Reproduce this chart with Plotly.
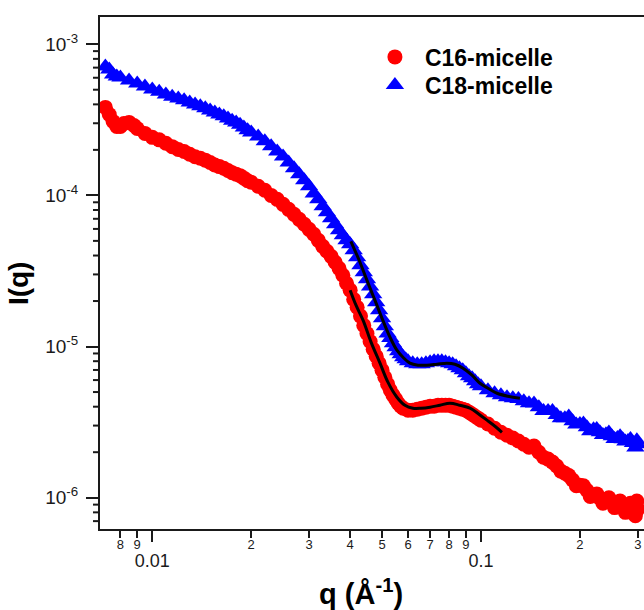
import math
import plotly.graph_objects as go

# ---------------- data ----------------
q_c16 = [0.0072, 0.0074, 0.0076, 0.0078, 0.0080, 0.0082, 0.0085, 0.0088, 0.0090, 0.0095,
         0.010, 0.0105, 0.011, 0.0115, 0.012, 0.0125, 0.013, 0.0135, 0.014, 0.0145,
         0.015, 0.0155, 0.016, 0.0165, 0.017, 0.0175, 0.018, 0.0185, 0.019, 0.0195,
         0.020, 0.021, 0.022, 0.023, 0.024, 0.025, 0.026, 0.027, 0.028, 0.029,
         0.030, 0.031, 0.032, 0.033, 0.034, 0.035, 0.036, 0.037, 0.038, 0.039,
         0.040, 0.041, 0.042, 0.043, 0.044, 0.045, 0.046, 0.047, 0.048, 0.049,
         0.050, 0.051, 0.052, 0.053, 0.054, 0.055, 0.056, 0.057, 0.058, 0.060,
         0.062, 0.064, 0.066, 0.068, 0.070, 0.072, 0.074, 0.076, 0.078, 0.080,
         0.082, 0.084, 0.086, 0.088, 0.090, 0.092, 0.094, 0.096, 0.098, 0.100,
         0.105, 0.110, 0.115, 0.120, 0.125, 0.130, 0.135, 0.140, 0.145, 0.150,
         0.155, 0.160, 0.165, 0.170, 0.175, 0.180, 0.185, 0.190, 0.195, 0.200,
         0.205, 0.210, 0.215, 0.220, 0.225, 0.230, 0.235, 0.240, 0.245, 0.250,
         0.255, 0.260, 0.265, 0.270, 0.275, 0.280, 0.285, 0.290, 0.295, 0.300, 0.298]
i_c16 = [3.82e-4, 3.43e-4, 3.08e-4, 2.86e-4, 2.86e-4, 2.99e-4, 3.04e-4, 2.90e-4, 2.77e-4, 2.57e-4,
         2.42e-4, 2.33e-4, 2.21e-4, 2.10e-4, 2.01e-4, 1.95e-4, 1.87e-4, 1.80e-4, 1.76e-4, 1.71e-4,
         1.65e-4, 1.59e-4, 1.55e-4, 1.51e-4, 1.46e-4, 1.41e-4, 1.38e-4, 1.35e-4, 1.30e-4, 1.25e-4,
         1.22e-4, 1.15e-4, 1.08e-4, 1.00e-4, 9.41e-5, 8.72e-5, 8.08e-5, 7.49e-5, 6.94e-5, 6.44e-5,
         5.96e-5, 5.53e-5, 5.04e-5, 4.60e-5, 4.27e-5, 3.95e-5, 3.61e-5, 3.29e-5, 2.96e-5, 2.62e-5,
         2.36e-5, 2.05e-5, 1.82e-5, 1.59e-5, 1.38e-5, 1.22e-5, 1.08e-5, 9.60e-6, 8.63e-6, 7.76e-6,
         6.98e-6, 6.27e-6, 5.64e-6, 5.14e-6, 4.77e-6, 4.49e-6, 4.22e-6, 4.03e-6, 3.91e-6, 3.79e-6,
         3.79e-6, 3.85e-6, 3.91e-6, 3.97e-6, 4.03e-6, 4.03e-6, 4.09e-6, 4.09e-6, 4.09e-6, 4.09e-6,
         4.03e-6, 3.97e-6, 3.91e-6, 3.85e-6, 3.79e-6, 3.68e-6, 3.57e-6, 3.46e-6, 3.36e-6, 3.26e-6,
         3.07e-6, 2.88e-6, 2.71e-6, 2.59e-6, 2.48e-6, 2.37e-6, 2.26e-6, 2.16e-6, 2.20e-6, 2.00e-6,
         1.85e-6, 1.80e-6, 1.72e-6, 1.62e-6, 1.50e-6, 1.45e-6, 1.40e-6, 1.31e-6, 1.20e-6, 1.21e-6,
         1.20e-6, 1.12e-6, 1.02e-6, 1.04e-6, 1.06e-6, 9.94e-7, 9.20e-7, 9.50e-7, 1.00e-6, 9.21e-7,
         8.60e-7, 8.94e-7, 9.50e-7, 8.67e-7, 8.00e-7, 8.54e-7, 9.20e-7, 8.41e-7, 7.60e-7, 8.41e-7, 9.50e-7]

q_c18 = [0.0072, 0.0074, 0.0076, 0.0078, 0.0080, 0.0085, 0.0090, 0.0095,
         0.010, 0.0105, 0.011, 0.0115, 0.012, 0.0125, 0.013, 0.0135, 0.014, 0.0145,
         0.015, 0.0155, 0.016, 0.0165, 0.017, 0.0175, 0.018, 0.0185, 0.019, 0.0195,
         0.020, 0.021, 0.022, 0.023, 0.024, 0.025, 0.026, 0.027, 0.028, 0.029,
         0.030, 0.031, 0.032, 0.033, 0.034, 0.035, 0.036, 0.037, 0.038, 0.039,
         0.040, 0.041, 0.042, 0.043, 0.044, 0.045, 0.046, 0.047, 0.048, 0.049,
         0.050, 0.051, 0.052, 0.053, 0.054, 0.055, 0.056, 0.057, 0.058, 0.059, 0.060,
         0.062, 0.064, 0.066, 0.068, 0.070, 0.072, 0.074, 0.076, 0.078, 0.080,
         0.082, 0.084, 0.086, 0.088, 0.090, 0.092, 0.094, 0.096, 0.098, 0.100,
         0.105, 0.110, 0.115, 0.120, 0.125, 0.130, 0.135, 0.140, 0.145, 0.150,
         0.155, 0.160, 0.165, 0.170, 0.175, 0.180, 0.185, 0.190, 0.195, 0.200,
         0.205, 0.210, 0.215, 0.220, 0.225, 0.230, 0.235, 0.240, 0.245, 0.250,
         0.255, 0.260, 0.265, 0.270, 0.275, 0.280, 0.285, 0.290, 0.295, 0.300, 0.298]
i_c18 = [7.12e-4, 6.80e-4, 6.31e-4, 6.12e-4, 6.02e-4, 5.75e-4, 5.50e-4, 5.25e-4,
         5.02e-4, 4.85e-4, 4.65e-4, 4.50e-4, 4.38e-4, 4.26e-4, 4.12e-4, 3.99e-4, 3.88e-4, 3.77e-4,
         3.65e-4, 3.53e-4, 3.43e-4, 3.34e-4, 3.23e-4, 3.12e-4, 3.04e-4, 2.93e-4, 2.81e-4, 2.70e-4,
         2.61e-4, 2.45e-4, 2.28e-4, 2.11e-4, 1.95e-4, 1.81e-4, 1.65e-4, 1.51e-4, 1.38e-4, 1.26e-4,
         1.15e-4, 1.03e-4, 9.41e-5, 8.46e-5, 7.72e-5, 7.05e-5, 6.44e-5, 5.87e-5, 5.44e-5, 5.04e-5,
         4.75e-5, 4.33e-5, 3.89e-5, 3.45e-5, 3.10e-5, 2.79e-5, 2.50e-5, 2.22e-5, 1.96e-5, 1.74e-5,
         1.54e-5, 1.36e-5, 1.22e-5, 1.14e-5, 1.05e-5, 9.89e-6, 9.31e-6, 8.90e-6, 8.50e-6, 8.25e-6, 8.00e-6,
         7.76e-6, 7.64e-6, 7.64e-6, 7.76e-6, 7.88e-6, 8.00e-6, 8.00e-6, 8.00e-6, 7.88e-6, 7.76e-6,
         7.64e-6, 7.41e-6, 7.19e-6, 6.98e-6, 6.67e-6, 6.37e-6, 6.18e-6, 5.90e-6, 5.64e-6, 5.47e-6,
         5.14e-6, 4.91e-6, 4.77e-6, 4.62e-6, 4.55e-6, 4.49e-6, 4.35e-6, 4.22e-6, 4.20e-6, 3.97e-6,
         3.75e-6, 3.74e-6, 3.75e-6, 3.52e-6, 3.35e-6, 3.36e-6, 3.45e-6, 3.21e-6, 3.05e-6, 3.07e-6,
         3.10e-6, 2.93e-6, 2.75e-6, 2.84e-6, 2.85e-6, 2.71e-6, 2.60e-6, 2.63e-6, 2.70e-6, 2.55e-6,
         2.45e-6, 2.48e-6, 2.55e-6, 2.44e-6, 2.35e-6, 2.37e-6, 2.45e-6, 2.30e-6, 2.15e-6, 2.26e-6, 2.40e-6]

q_fit16 = [0.0400, 0.0417, 0.0438, 0.0463, 0.0493, 0.0521, 0.0555, 0.0587, 0.0621, 0.0657,
           0.0700, 0.0750, 0.0805, 0.0863, 0.0926, 0.0986, 0.1043, 0.1103, 0.1158]
i_fit16 = [2.36e-5, 1.87e-5, 1.49e-5, 1.07e-5, 7.76e-6, 5.81e-6, 4.62e-6, 4.09e-6, 3.91e-6, 3.91e-6,
           3.97e-6, 4.09e-6, 4.22e-6, 4.09e-6, 3.91e-6, 3.57e-6, 3.26e-6, 2.97e-6, 2.71e-6]

q_fit18 = [0.0402, 0.0426, 0.0450, 0.0476, 0.0503, 0.0529, 0.0555, 0.0583, 0.0608, 0.0643,
           0.0685, 0.0735, 0.0788, 0.0833, 0.0882, 0.0939, 0.0993, 0.1050, 0.1119, 0.1208, 0.1314]
i_fit18 = [4.97e-5, 3.72e-5, 2.74e-5, 2.02e-5, 1.49e-5, 1.15e-5, 9.46e-6, 8.37e-6, 7.76e-6, 7.53e-6,
           7.53e-6, 7.64e-6, 7.76e-6, 7.64e-6, 7.19e-6, 6.46e-6, 5.72e-6, 5.30e-6, 4.91e-6, 4.69e-6, 4.55e-6]

x_digit_vals = [0.008, 0.009, 0.02, 0.03, 0.04, 0.05, 0.06, 0.07, 0.08, 0.09, 0.2, 0.3]
x_digit_text = ["8", "9", "2", "3", "4", "5", "6", "7", "8", "9", "2", "3"]
x_major_vals = [0.01, 0.1]
x_major_text = ["0.01", "0.1"]
y_major_vals = [1e-3, 1e-4, 1e-5, 1e-6]
y_major_text = ["10<sup>-3</sup>", "10<sup>-4</sup>", "10<sup>-5</sup>", "10<sup>-6</sup>"]
y_minor_vals = [2e-4, 3e-4, 4e-4, 5e-4, 6e-4, 7e-4, 8e-4, 9e-4,
                2e-5, 3e-5, 4e-5, 5e-5, 6e-5, 7e-5, 8e-5, 9e-5,
                2e-6, 3e-6, 4e-6, 5e-6, 6e-6, 7e-6, 8e-6, 9e-6,
                7e-7, 8e-7, 9e-7]

series_names = ["C16-micelle", "C18-micelle"]

FONT = "Liberation Sans, Arial, sans-serif"
INK = "#1a1a1a"
XRANGE = [-2.159, -0.504]
YRANGE = [-6.207, -2.820]
PLOT_W = 544  # plot-area width in px (644 - 100)

fig = go.Figure()
fig.add_trace(go.Scatter(x=q_c16, y=i_c16, mode="markers", name=series_names[0], legend="legend",
                         marker=dict(symbol="circle", size=15, color="#ff0000", line=dict(width=0))))
fig.add_trace(go.Scatter(x=q_c18, y=i_c18, mode="markers", name=series_names[1], legend="legend2",
                         marker=dict(symbol="triangle-up", size=16, color="#0000ff", line=dict(width=0))))
fig.add_trace(go.Scatter(x=q_fit16, y=i_fit16, mode="lines", showlegend=False,
                         line=dict(color="black", width=3, shape="spline")))
fig.add_trace(go.Scatter(x=q_fit18, y=i_fit18, mode="lines", showlegend=False,
                         line=dict(color="black", width=3, shape="spline")))
# invisible carrier for the secondary (major-tick) x axis
fig.add_trace(go.Scatter(x=[x_major_vals[0]], y=[y_major_vals[1]], xaxis="x2", yaxis="y",
                         mode="markers", marker=dict(opacity=0), showlegend=False, hoverinfo="skip"))

# short minor ticks on the y axis, placed along the axis in paper units
minor_tick_shapes = []
for v in y_minor_vals:
    yp = (math.log10(v) - YRANGE[0]) / (YRANGE[1] - YRANGE[0])
    minor_tick_shapes.append(dict(type="line", xref="paper", yref="paper",
                                  x0=-7.0 / PLOT_W, x1=-1.0 / PLOT_W, y0=yp, y1=yp,
                                  line=dict(color=INK, width=2), layer="above"))

legend_style = dict(xanchor="left", yanchor="middle",
                    font=dict(family=FONT, size=23, color="black", weight="bold"),
                    bgcolor="rgba(0,0,0,0)", borderwidth=0, itemwidth=50)

fig.update_layout(
    width=644, height=610,
    margin=dict(l=100, r=0, t=17, b=81, autoexpand=False),
    paper_bgcolor="white", plot_bgcolor="white",
    font=dict(family=FONT, color=INK),
    showlegend=True,
    legend=dict(x=0.487, y=0.922, **legend_style),
    legend2=dict(x=0.487, y=0.867, **legend_style),
    xaxis=dict(type="log", range=XRANGE, tickmode="array", tickvals=x_digit_vals,
               ticktext=x_digit_text, ticks="outside", ticklen=7, tickwidth=2,
               tickcolor=INK, tickfont=dict(size=13, color=INK, family=FONT),
               showline=True, linecolor=INK, linewidth=2, mirror=True, automargin=False,
               showgrid=False, zeroline=False, ticklabelstandoff=-5),
    xaxis2=dict(type="log", range=XRANGE, overlaying="x", anchor="y", side="bottom",
                tickmode="array", tickvals=x_major_vals, ticktext=x_major_text,
                ticks="outside", ticklen=12, tickwidth=2, tickcolor=INK,
                tickfont=dict(size=18, color=INK, family=FONT), automargin=False,
                showline=False, showgrid=False, zeroline=False, ticklabelstandoff=3),
    yaxis=dict(type="log", range=YRANGE, tickmode="array", tickvals=y_major_vals,
               ticktext=y_major_text, ticks="outside", ticklen=12, tickwidth=2,
               tickcolor=INK, tickfont=dict(size=19, color=INK, family=FONT),
               showline=True, linecolor=INK, linewidth=2, mirror=False, automargin=False,
               showgrid=False, zeroline=False, ticklabelstandoff=4),
    shapes=minor_tick_shapes,
    annotations=[
        dict(text="<b>q (Å<sup>-1</sup>)</b>", xref="paper", yref="paper",
             x=0.48, y=-0.123, xanchor="center", yanchor="middle", showarrow=False,
             font=dict(family=FONT, size=29, color="black")),
        dict(text="<b>I(q)</b>", xref="paper", yref="paper", textangle=-90,
             x=-0.151, y=0.48, xanchor="center", yanchor="middle", showarrow=False,
             font=dict(family=FONT, size=28, color="black")),
    ],
)

fig.write_html("out.html", config={"displayModeBar": False},
               post_script="document.body.style.margin='0px';document.body.style.overflow='hidden';")
